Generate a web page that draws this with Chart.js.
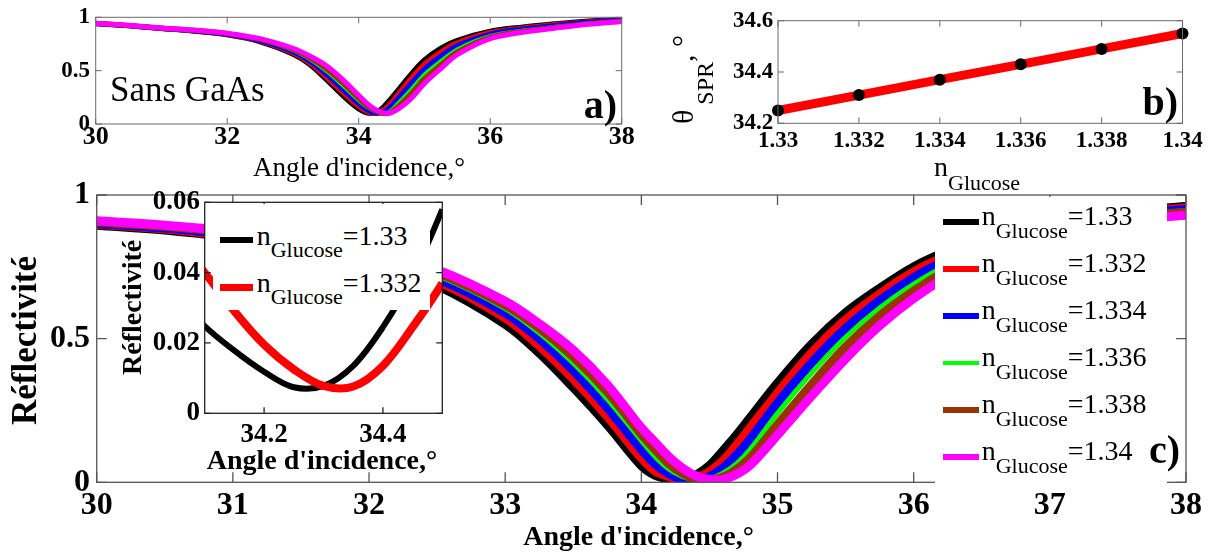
<!DOCTYPE html>
<html>
<head>
<meta charset="utf-8">
<script src="https://cdn.jsdelivr.net/npm/chart.js@4.4.1/dist/chart.umd.min.js"></script>
<style>
body{margin:0;background:#fff;}
#wrap{position:relative;width:1209px;height:552px;overflow:hidden;font-family:"Liberation Serif","Times New Roman","Tinos","DejaVu Serif",serif;color:#000;}
canvas{position:absolute;left:0;top:0;}
.t{position:absolute;white-space:nowrap;line-height:1;}
.box{position:absolute;background:#fff;}
.ln{position:absolute;}
</style>
</head>
<body>
<div id="wrap">
  <canvas id="cA" width="1209" height="552"></canvas>
  <canvas id="cB" width="1209" height="552"></canvas>
  <canvas id="cC" width="1209" height="552"></canvas>
  <div class="box" id="legC" style="left:935px;top:197px;width:232px;height:286px"></div>
  <canvas id="cI" width="1209" height="552"></canvas>
  <div class="box" id="legI" style="left:213px;top:204px;width:217px;height:106px"></div>
</div>
<script>
// ---- data ----
const nGlu = [1.33, 1.332, 1.334, 1.336, 1.338, 1.34];
const colors = ['#000000', '#ff0000', '#0000ff', '#00ff00', '#993300', '#ff00ff'];

// b) resonance angle vs glucose index
const thetaSPR = [34.25, 34.31, 34.37, 34.43, 34.49, 34.55];

// a) without GaAs
const angA = [30, 30.5, 31, 31.5, 32, 32.5, 33, 33.25, 33.5, 33.75, 34, 34.15, 34.3, 34.45, 34.6, 34.8, 35, 35.25, 35.5, 36, 36.5, 37, 37.5, 38];
const reflA_1330 = [0.94, 0.92, 0.895, 0.87, 0.835, 0.77, 0.655, 0.56, 0.42, 0.27, 0.14, 0.1, 0.12, 0.21, 0.32, 0.47, 0.6, 0.71, 0.785, 0.87, 0.91, 0.94, 0.965, 0.985];
const reflA_1332 = [0.941, 0.921, 0.896, 0.872, 0.838, 0.776, 0.665, 0.575, 0.445, 0.3, 0.165, 0.11, 0.105, 0.17, 0.28, 0.43, 0.56, 0.675, 0.76, 0.857, 0.9, 0.932, 0.959, 0.98];
const reflA_1334 = [0.942, 0.922, 0.897, 0.874, 0.841, 0.782, 0.677, 0.59, 0.47, 0.33, 0.19, 0.125, 0.1, 0.14, 0.24, 0.38, 0.515, 0.635, 0.735, 0.843, 0.89, 0.924, 0.953, 0.975];
const reflA_1336 = [0.943, 0.923, 0.898, 0.876, 0.844, 0.788, 0.688, 0.605, 0.495, 0.36, 0.215, 0.145, 0.105, 0.115, 0.2, 0.33, 0.47, 0.595, 0.705, 0.829, 0.88, 0.916, 0.947, 0.97];
const reflA_1338 = [0.944, 0.924, 0.899, 0.878, 0.847, 0.794, 0.699, 0.622, 0.52, 0.39, 0.24, 0.16, 0.11, 0.1, 0.165, 0.285, 0.425, 0.555, 0.675, 0.815, 0.87, 0.908, 0.941, 0.965];
const reflA_1340 = [0.945, 0.925, 0.9, 0.88, 0.85, 0.8, 0.71, 0.64, 0.55, 0.42, 0.27, 0.18, 0.12, 0.1, 0.14, 0.24, 0.38, 0.52, 0.65, 0.8, 0.86, 0.9, 0.935, 0.96];

// c) main curves
const angC = [30, 30.5, 31, 31.5, 32, 32.5, 33, 33.25, 33.5, 33.75, 34, 34.1, 34.2, 34.3, 34.4, 34.5, 34.6, 34.7, 34.8, 35, 35.25, 35.5, 35.75, 36, 36.25, 36.5, 37, 37.5, 38];
const reflC_1330 = [0.895, 0.878, 0.852, 0.82, 0.77, 0.685, 0.55, 0.45, 0.33, 0.2, 0.058, 0.025, 0.012, 0.008, 0.025, 0.058, 0.11, 0.165, 0.225, 0.345, 0.48, 0.59, 0.675, 0.75, 0.805, 0.85, 0.905, 0.94, 0.96];
const reflC_1332 = [0.898, 0.882, 0.857, 0.826, 0.78, 0.7, 0.572, 0.475, 0.36, 0.23, 0.085, 0.04, 0.02, 0.008, 0.014, 0.037, 0.075, 0.13, 0.19, 0.31, 0.45, 0.565, 0.655, 0.732, 0.79, 0.84, 0.898, 0.935, 0.955];
const reflC_1334 = [0.901, 0.885, 0.861, 0.831, 0.788, 0.71, 0.59, 0.5, 0.39, 0.26, 0.115, 0.065, 0.03, 0.011, 0.008, 0.02, 0.05, 0.095, 0.15, 0.275, 0.415, 0.535, 0.632, 0.712, 0.775, 0.827, 0.89, 0.93, 0.95];
const reflC_1336 = [0.903, 0.888, 0.865, 0.836, 0.796, 0.72, 0.605, 0.52, 0.415, 0.29, 0.145, 0.09, 0.047, 0.02, 0.008, 0.012, 0.032, 0.065, 0.115, 0.24, 0.38, 0.505, 0.607, 0.69, 0.757, 0.812, 0.882, 0.925, 0.945];
const reflC_1338 = [0.906, 0.891, 0.869, 0.842, 0.803, 0.73, 0.617, 0.537, 0.437, 0.315, 0.168, 0.115, 0.066, 0.032, 0.012, 0.008, 0.018, 0.045, 0.085, 0.2, 0.34, 0.47, 0.578, 0.665, 0.738, 0.796, 0.874, 0.918, 0.94];
const reflC_1340 = [0.91, 0.895, 0.874, 0.847, 0.81, 0.74, 0.63, 0.552, 0.46, 0.34, 0.19, 0.14, 0.09, 0.05, 0.022, 0.009, 0.01, 0.028, 0.06, 0.165, 0.3, 0.43, 0.545, 0.64, 0.718, 0.78, 0.865, 0.91, 0.93];

// inset (zoom on the two first curves)
const angI = [34.05, 34.1, 34.15, 34.2, 34.25, 34.3, 34.35, 34.4, 34.45, 34.5, 34.55];
const reflI_1330 = [0.034, 0.0248, 0.0178, 0.0118, 0.0074, 0.0078, 0.0135, 0.0245, 0.039, 0.058, 0.08];
const reflI_1332 = [0.05, 0.04, 0.029, 0.0195, 0.0125, 0.0078, 0.0076, 0.0135, 0.0245, 0.037, 0.052];

// ---- helpers ----
const W = 1209, H = 552;
const FAM = "'Liberation Serif','Times New Roman','Tinos','DejaVu Serif',serif";
Chart.defaults.color = '#000';
Chart.defaults.font.family = FAM;

function pts(xs, ys){ return xs.map((x,i)=>({x:x, y:ys[i]})); }
function fmt(d){ return v=>String(parseFloat(v.toFixed(d))); }

const framePlugin = {
  id:'frame',
  beforeDatasetsDraw(chart, args, o){
    if(!o.fill) return;
    const a = chart.chartArea, ctx = chart.ctx;
    ctx.save(); ctx.fillStyle = o.fill;
    ctx.fillRect(a.left, a.top, a.right-a.left, a.bottom-a.top);
    ctx.restore();
  },
  afterDatasetsDraw(chart, args, o){
    const a = chart.chartArea, ctx = chart.ctx, len = o.tick;
    const xs = chart.scales.x, ys = chart.scales.y;
    ctx.save();
    ctx.strokeStyle = o.color; ctx.lineWidth = o.width;
    ctx.beginPath();
    xs.ticks.forEach(t=>{
      const p = xs.getPixelForValue(t.value);
      ctx.moveTo(p, a.bottom); ctx.lineTo(p, a.bottom-len);
      ctx.moveTo(p, a.top); ctx.lineTo(p, a.top+len);
    });
    ys.ticks.forEach(t=>{
      const p = ys.getPixelForValue(t.value);
      ctx.moveTo(a.left, p); ctx.lineTo(a.left+len, p);
      ctx.moveTo(a.right, p); ctx.lineTo(a.right-len, p);
    });
    ctx.stroke();
    ctx.strokeRect(a.left, a.top, a.right-a.left, a.bottom-a.top);
    ctx.restore();
  }
};

function fit(size, isY){
  return s=>{
    if(isY) s.width = size; else s.height = size;
    s.paddingLeft = s.paddingRight = s.paddingTop = s.paddingBottom = 0;
  };
}

function makeChart(id, area, datasets, xs, ys, frame){
  const axis = (extra, isY)=>Object.assign({
    type:'linear',
    grid:{display:false, drawTicks:false},
    border:{display:false},
    afterFit: fit(60, isY)
  }, extra);
  return new Chart(document.getElementById(id), {
    type:'line',
    data:{datasets:datasets},
    plugins:[framePlugin],
    options:{
      responsive:false, animation:false, devicePixelRatio:1, events:[],
      layout:{padding:{left:area.l-60, top:area.t, right:W-area.r, bottom:H-area.b-60}},
      plugins:{legend:{display:false}, tooltip:{enabled:false}, frame:frame},
      scales:{x:axis(xs,false), y:axis(ys,true)}
    }
  });
}

function curve(xs, ys, color, width){
  return {data:pts(xs, ys), borderColor:color, borderWidth:width, pointRadius:0,
          tension:0.35, clip:0, fill:false};
}

function tickFont(size){ return {family:FAM, size:size, weight:'bold', lineHeight:1}; }

// ---- a) ----
const seriesA = [reflA_1330, reflA_1332, reflA_1334, reflA_1336, reflA_1338, reflA_1340];
makeChart('cA', {l:95.7, t:17.3, r:621.7, b:124},
  seriesA.map((s,i)=>curve(angA, s, colors[i], i===3?3:5)).reverse(),
  {min:30, max:38, ticks:{stepSize:2, autoSkip:false, maxRotation:0, padding:0.5, font:tickFont(26)}},
  {min:0, max:1, ticks:{stepSize:0.5, padding:5.7, font:tickFont(23), callback:fmt(1)}},
  {color:'#6b6b6b', width:1, tick:6});

// ---- b) ----
makeChart('cB', {l:778, t:20.7, r:1182.5, b:123.3},
  [{data:pts(nGlu, thetaSPR), borderColor:'#ff0000', borderWidth:9, pointRadius:6,
    pointBackgroundColor:'#000', pointBorderWidth:0, tension:0, clip:false}],
  {min:1.33, max:1.34, ticks:{stepSize:0.002, autoSkip:false, maxRotation:0, padding:6, font:tickFont(23), callback:fmt(3)}},
  {min:34.2, max:34.6, ticks:{stepSize:0.2, padding:4.7, font:tickFont(23), callback:v=>v.toFixed(1)}},
  {color:'#6b6b6b', width:1, tick:6});

// ---- c) ----
const seriesC = [reflC_1330, reflC_1332, reflC_1334, reflC_1336, reflC_1338, reflC_1340];
makeChart('cC', {l:96.7, t:195, r:1186, b:482.3},
  seriesC.map((s,i)=>curve(angC, s, colors[i], i===3?5:9)).reverse(),
  {min:30, max:38, ticks:{stepSize:1, autoSkip:false, maxRotation:0, padding:7.5, font:tickFont(32)}},
  {min:0, max:1, ticks:{stepSize:0.5, padding:6.7, font:tickFont(32), callback:fmt(1)}},
  {color:'#555', width:1.3, tick:10});

// ---- inset ----
makeChart('cI', {l:204.7, t:202.3, r:442.3, b:413.3},
  [curve(angI, reflI_1332, colors[1], 8), curve(angI, reflI_1330, colors[0], 6)],
  {min:34.1, max:34.5, afterBuildTicks:s=>{ s.ticks = [{value:34.2},{value:34.4}]; },
   ticks:{autoSkip:false, maxRotation:0, padding:8.2, font:tickFont(27), callback:v=>v.toFixed(1)}},
  {min:0, max:0.06, ticks:{stepSize:0.02, padding:4.7, font:tickFont(27), callback:fmt(2)}},
  {color:'#222', width:1.3, tick:6, fill:'#fff'});

// ---- texts ----
const wrap = document.getElementById('wrap');
function addText(html, x, base, size, bold, align, rotate){
  const d = document.createElement('div');
  d.className = 't';
  d.innerHTML = html;
  d.style.fontSize = size + 'px';
  if(bold) d.style.fontWeight = 'bold';
  if(rotate){
    d.style.left = (x - 0.8375*size) + 'px';
    d.style.top = base + 'px';
    d.style.transformOrigin = '0 0';
    d.style.transform = 'rotate(-90deg)';
  } else {
    d.style.left = x + 'px';
    d.style.top = (base - 0.8375*size) + 'px';
    if(align==='right') d.style.transform = 'translateX(-100%)';
    if(align==='center') d.style.transform = 'translateX(-50%)';
  }
  wrap.appendChild(d);
}
function sub(txt, size, dy){ return '<span style="font-size:'+size+'px;position:relative;top:'+dy+'px">'+txt+'</span>'; }
function addLine(x, yc, w, h, color){
  const d = document.createElement('div');
  d.className = 'ln';
  d.style.left = x+'px'; d.style.top = (yc-h/2)+'px';
  d.style.width = w+'px'; d.style.height = h+'px';
  d.style.background = color;
  wrap.appendChild(d);
}

// a)
addText('Sans GaAs', 110, 101, 35, false);
addText('a)', 617, 118, 40, true, 'right');
addText("Angle d'incidence,°", 359, 177, 27, false, 'center');
// b)
addText('<span style="margin-right:5px">θ</span>'+sub('SPR',24,20)+', °', 693, 124, 30, false, null, true);
addText('n'+sub('Glucose',22,14), 934, 176.7, 28, false);
addText('b)', 1178, 115, 40, true, 'right');
// c)
addText('Réflectivité', 36.7, 425, 35, true, null, true);
addText("Angle d'incidence,°", 523.3, 545, 28, true);
addText('c)', 1180, 463, 40, true, 'right');
// inset
addText('Réflectivité', 141.7, 375, 28, true, null, true);
addText("Angle d'incidence,°", 206.7, 469, 28, true);

// legend c)
nGlu.forEach((n,i)=>{
  const yc = 221.7 + 47.1*i;
  addLine(943, yc, 36, i===3?4:6, colors[i]);
  addText('n'+sub('Glucose',22,13.3)+'=' + n, 981.7, yc+3.3, 28, false);
});
// legend inset
[0,1].forEach(i=>{
  const yc = 240 + 47.3*i;
  addLine(220, yc, 33, i===0?6:7, colors[i]);
  addText('n'+sub('Glucose',22,12.3)+'=' + nGlu[i], 256.7, yc+5, 28, false);
});
</script>
</body>
</html>
